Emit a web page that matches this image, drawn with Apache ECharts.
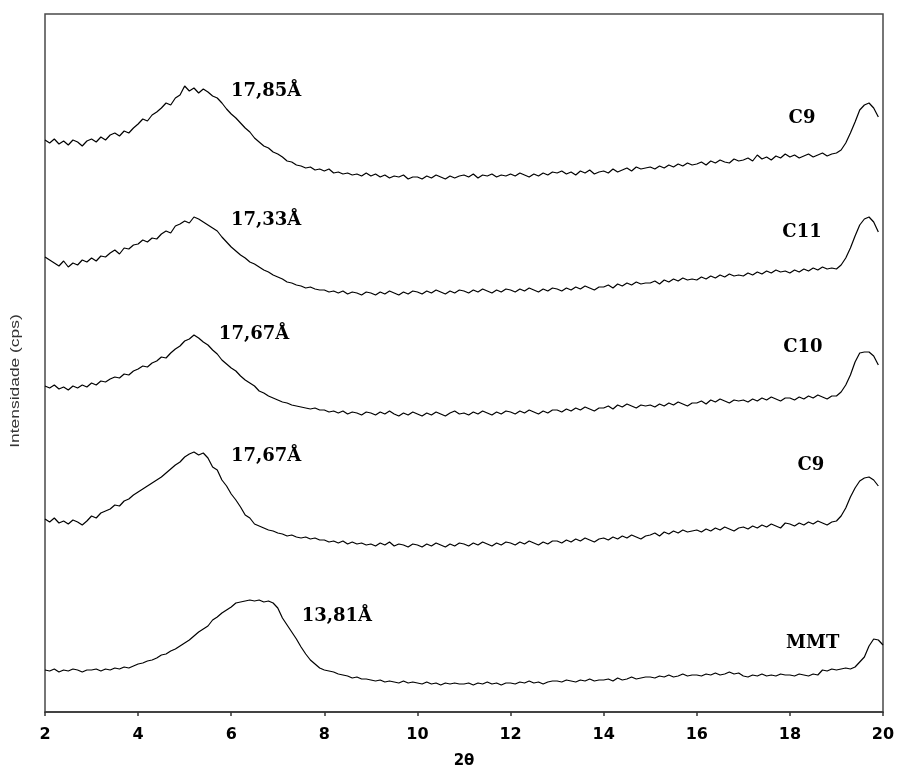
<!DOCTYPE html>
<html>
<head>
<meta charset="utf-8">
<script src="https://cdn.jsdelivr.net/npm/echarts@6/dist/echarts.min.js"></script>
<style>html,body{margin:0;padding:0;background:#fff;}#main{width:898px;height:769px;}</style>
</head>
<body>
<div id="main"></div>
<script>
// 2θ sampling: 2.0 .. step 0.1
const thetaStart = 2.0;
const thetaStep = 0.1;

// Intensity (cps, arbitrary offset units), one value per 0.1°
const c9Top = [
572,569,573,568,571,567,572,570,566,571,
573,570,575,572,577,579,576,581,579,584,
588,593,591,597,600,604,609,607,614,617,
626,621,624,619,623,620,616,614,609,603,
598,594,589,584,580,574,570,566,564,560,
558,555,551,550,547,546,544,545,542,543,
541,543,539,540,538,539,537,538,536,539,
536,538,535,537,534,536,535,537,533,535,
535,533,536,534,537,535,533,536,534,536,
537,535,538,534,537,536,538,535,537,536,
538,536,539,537,535,538,536,539,537,540,
539,541,538,540,537,541,539,542,538,540,
541,539,543,540,542,544,541,545,543,544,
545,543,546,544,547,545,548,546,549,547,
548,550,547,551,549,552,550,549,553,551,
552,554,551,557,553,555,552,556,554,558,
555,557,554,556,558,555,557,559,556,558,
559,562,569,579,590,602,607,609,604,595
];
const c11 = [
455,452,449,446,451,445,449,447,452,450,
454,451,456,455,459,462,458,464,463,467,
468,472,470,474,473,478,481,479,486,488,
491,489,495,493,490,487,484,481,475,470,
465,461,457,454,450,448,445,442,440,437,
435,433,430,429,427,426,424,425,423,422,
422,420,421,419,421,418,420,419,417,420,
419,417,420,418,421,419,417,420,418,421,
420,418,421,419,422,420,418,421,419,422,
421,419,422,420,423,421,419,422,420,423,
422,420,423,421,424,422,420,423,421,424,
423,421,424,422,425,423,426,424,422,425,
425,427,424,428,426,429,427,430,428,429,
429,431,428,432,430,433,431,434,432,433,
432,435,433,436,434,437,435,438,436,437,
436,439,437,440,438,441,439,442,440,441,
439,442,440,443,441,444,442,445,443,444,
443,447,454,464,476,487,493,495,490,480
];
const c10 = [
326,324,327,323,325,322,326,324,327,325,
329,327,331,330,333,335,334,338,337,341,
343,346,345,349,351,355,354,359,363,366,
371,373,377,374,370,367,362,358,352,348,
344,341,336,332,329,326,321,319,316,314,
312,310,309,307,306,305,304,303,304,302,
302,300,301,299,301,298,300,299,297,300,
299,297,300,298,301,298,296,299,297,300,
298,296,299,297,300,298,296,299,301,298,
299,297,300,298,301,299,297,300,298,301,
300,298,301,299,302,300,298,301,299,302,
302,300,303,301,304,302,305,303,301,304,
304,306,303,307,305,308,306,304,307,306,
307,305,308,306,309,307,310,308,306,309,
309,311,308,312,310,313,311,309,312,311,
312,310,313,311,314,312,315,313,311,314,
314,312,315,313,316,314,317,315,313,316,
316,320,327,337,350,359,360,360,356,347
];
const c9Low = [
193,190,194,189,191,188,192,190,187,191,
196,194,199,201,203,207,206,211,213,217,
220,223,226,229,232,235,239,243,247,250,
255,258,260,257,259,254,245,242,232,226,
218,212,205,197,194,188,186,184,182,181,
179,178,176,177,175,174,175,173,174,172,
172,170,171,169,171,168,170,168,169,167,
168,166,169,167,170,166,168,167,165,168,
167,165,168,166,169,167,165,168,166,169,
168,166,169,167,170,168,166,169,167,170,
169,167,170,168,171,169,167,170,168,171,
171,169,172,170,173,171,174,172,170,173,
174,172,175,173,176,174,177,175,173,176,
177,179,176,180,178,181,179,182,180,181,
182,180,183,181,184,182,185,183,181,184,
185,183,186,184,187,185,188,186,184,189,
188,186,189,187,190,188,191,189,187,190,
191,196,204,215,224,231,234,235,232,226
];
const mmt = [
42,41,43,40,42,41,43,42,40,42,
42,43,41,43,42,44,43,45,44,46,
48,49,51,52,54,57,58,61,63,66,
69,72,76,80,83,86,92,95,99,102,
105,109,110,111,112,111,112,110,111,109,
104,94,87,80,73,65,58,52,48,44,
42,41,40,38,37,36,34,35,33,33,
32,31,32,30,31,30,29,31,29,30,
29,28,30,28,29,27,29,28,29,28,
28,29,27,29,28,30,28,29,27,29,
29,28,30,29,31,29,30,28,30,31,
31,30,32,31,30,32,31,33,31,32,
32,33,31,34,32,33,35,33,34,35,
35,34,36,35,37,35,36,38,36,37,
37,36,38,37,39,37,38,40,38,39,
36,35,37,36,38,36,37,36,38,37,
37,36,38,37,36,38,37,42,41,43,
42,43,44,43,45,50,55,66,73,72,67
];

const xTicks = [2, 4, 6, 8, 10, 12, 14, 16, 18, 20];

// annotations: [2θ, intensity, text]
const peakLabels = [
  [6.75, 621, '17,85Å'],
  [6.75, 492, '17,33Å'],
  [6.49, 378, '17,67Å'],
  [6.75, 256, '17,67Å'],
  [8.27, 96, '13,81Å']
];
const sampleLabels = [
  [18.26, 594, 'C9'],
  [18.26, 480, 'C11'],
  [18.28, 365, 'C10'],
  [18.45, 247, 'C9'],
  [18.49, 69, 'MMT']
];

function pairs(arr) {
  return arr.map((v, i) => [+(thetaStart + i * thetaStep).toFixed(1), v]);
}

const chart = echarts.init(document.getElementById('main'), null, {renderer: 'canvas'});

const curves = [c9Top, c11, c10, c9Low, mmt];
const series = curves.map(c => ({
  type: 'line',
  data: pairs(c),
  showSymbol: false,
  symbol: 'none',
  lineStyle: {color: '#000', width: 1.2},
  silent: true
}));

const labelStyle = {
  show: true,
  position: 'inside',
  formatter: p => p.data[2],
  color: '#000',
  opacity: 1,
  fontFamily: 'DejaVu Serif',
  fontWeight: 'bold',
  fontSize: 18
};
series.push({
  type: 'scatter', symbolSize: 0, data: peakLabels, label: labelStyle,
  itemStyle: {opacity: 1}, silent: true
});
series.push({
  type: 'scatter', symbolSize: 0, data: sampleLabels, label: labelStyle,
  itemStyle: {opacity: 1}, silent: true
});

chart.setOption({
  animation: false,
  backgroundColor: '#fff',
  grid: {left: 45, right: 15, top: 14, bottom: 57, outerBoundsMode: 'none', containLabel: false,
         show: true, borderColor: '#4a4a4a', borderWidth: 1.5, backgroundColor: 'transparent'},
  xAxis: {
    type: 'value', min: 2, max: 20, interval: 2,
    name: '2θ', nameLocation: 'middle', nameGap: 42,
    nameTextStyle: {fontFamily: 'DejaVu Sans', fontWeight: 'bold', fontSize: 15, color: '#000'},
    axisLine: {show: true, lineStyle: {color: '#333', width: 1.5}},
    axisTick: {show: true, length: 4, lineStyle: {color: '#333', width: 1.5}},
    axisLabel: {
      margin: 15, color: '#000', fontFamily: 'DejaVu Sans', fontWeight: 'bold', fontSize: 16,
      formatter: v => xTicks.includes(v) ? String(v) : ''
    },
    splitLine: {show: false}
  },
  yAxis: {
    type: 'value', min: 0, max: 698,
    axisLine: {show: false}, axisTick: {show: false}, axisLabel: {show: false}, splitLine: {show: false}
  },
  graphic: [{
    type: 'text',
    x: 16, y: 381,
    rotation: Math.PI / 2,
    scaleX: 1.45,
    style: {
      text: 'Intensidade (cps)',
      font: '12px "Liberation Sans", Arial, sans-serif',
      fill: '#333',
      textAlign: 'center',
      textVerticalAlign: 'middle'
    }
  }],
  series: series
});
</script>
</body>
</html>
